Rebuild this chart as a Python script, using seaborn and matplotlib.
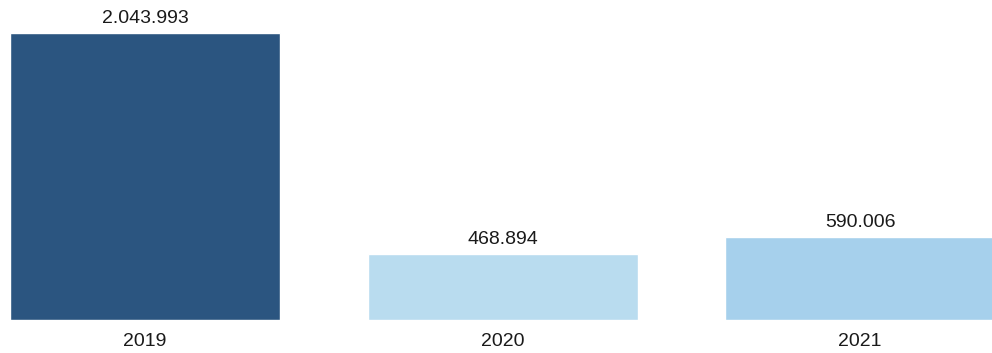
import matplotlib
matplotlib.use("Agg")
import matplotlib.pyplot as plt
import seaborn as sns
import pandas as pd

years = ["2019", "2020", "2021"]
values = [2043993, 468894, 590006]
labels = ["2.043.993", "468.894", "590.006"]
colors = ["#2b5580", "#b9dcef", "#a6d0ec"]

sns.set_theme(style="white")
plt.rcParams["font.family"] = ["Liberation Sans", "DejaVu Sans"]

df = pd.DataFrame({"year": years, "value": values})
fig = plt.figure(figsize=(9.92, 3.53), dpi=100)
ax = fig.add_axes([0, 33 / 353, 1, 320 / 353])
sns.barplot(data=df, x="year", y="value", hue="year", palette=colors,
            legend=False, width=0.755, ax=ax, saturation=1)
ax.set_xlim(-0.406, 2.369)
ax.set_ylim(0, 2043993 * 320 / 287)
for i, (v, t) in enumerate(zip(values, labels)):
    ax.text(i, v + 2043993 * 6 / 287, t, ha="center", va="bottom", fontsize=14, color="#1a1a1a")
ax.set_xlabel("")
ax.set_ylabel("")
ax.set_yticks([])
ax.tick_params(axis="x", length=0, pad=9, labelsize=14, labelcolor="#1a1a1a")
for s in ax.spines.values():
    s.set_visible(False)
fig.savefig("out.png", dpi=100)
